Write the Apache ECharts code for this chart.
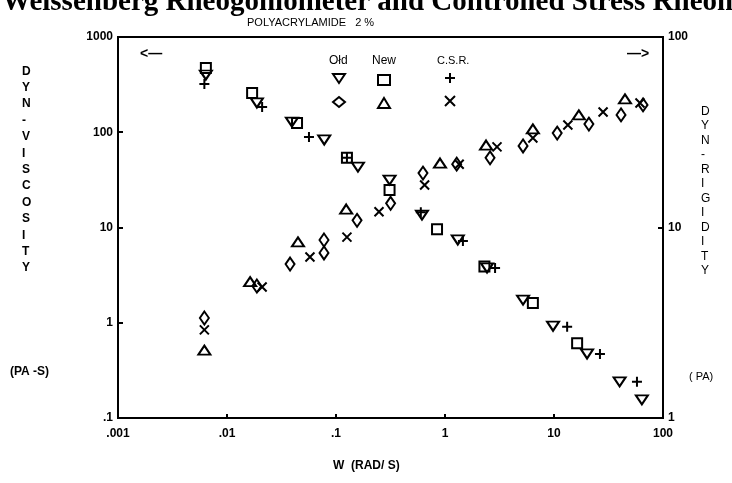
<!DOCTYPE html>
<html>
<head>
<meta charset="utf-8">
<script src="https://cdn.jsdelivr.net/npm/echarts@6/dist/echarts.min.js"></script>
<style>
  html, body { margin: 0; padding: 0; background: #fff; }
  #chart { width: 732px; height: 483px; }
</style>
</head>
<body>
<div id="chart"></div>
<script>
// tick labels
const xTickLabels = ['.001', '.01', '.1', '1', '10', '100']
const leftTickLabels = ['.1', '1', '10', '100', '1000']
const rightTickLabels = ['1', '10', '100']

// dynamic viscosity (PA-S) vs W (RAD/S)
const oldVisc = [[0.0064, 399], [0.0188, 203], [0.0394, 128], [0.078, 83], [0.159, 43], [0.31, 31.5],
  [0.615, 13.5], [1.31, 7.4], [2.43, 3.76], [5.2, 1.73], [9.8, 0.92], [20.1, 0.47], [40, 0.24], [64, 0.155]]
const newVisc = [[0.0064, 473], [0.017, 258], [0.0439, 125], [0.126, 54], [0.31, 24.8], [0.845, 9.6],
  [2.3, 3.9], [6.4, 1.61], [16.3, 0.61]]
const csrVisc = [[0.0062, 321], [0.021, 184], [0.0565, 89], [0.126, 54], [0.6, 14.5], [1.46, 7.2],
  [2.88, 3.76], [13.2, 0.91], [26.4, 0.47], [57.7, 0.24]]

// dynamic rigidity (PA) vs W (RAD/S)
const oldRig = [[0.0062, 3.35], [0.0188, 4.93], [0.0379, 6.43], [0.0776, 7.35], [0.0776, 8.6], [0.156, 10.9],
  [0.317, 13.4], [0.628, 19.3], [1.28, 21.5], [2.59, 23.2], [5.2, 26.8], [10.7, 31.3], [20.9, 34.9], [41.2, 39], [65.6, 44]]
const newRig = [[0.0062, 2.27], [0.0163, 5.2], [0.0448, 8.4], [0.124, 12.5], [0.9, 21.8], [2.38, 27.1],
  [6.4, 32.9], [16.9, 39], [44.8, 47.3]]
const csrRig = [[0.0062, 2.9], [0.021, 4.87], [0.0577, 7.0], [0.126, 8.9], [0.248, 12.1], [0.65, 16.7],
  [1.35, 21.5], [3.0, 26.5], [6.4, 29.5], [13.4, 34.5], [28.2, 40.4], [61.5, 45]]

const ink = '#000'
const downTri = 'path://M0,0L12,0L6,9Z'
const plusPath = 'path://M5,0L5,10M0,5L10,5'
const crossPath = 'path://M0,0L10,10M10,0L0,10'
const hollow = { color: 'rgba(255,255,255,0)', borderColor: ink, borderWidth: 2, opacity: 1 }
const labelFont = { color: ink, fontFamily: 'Liberation Sans', fontWeight: 'bold', fontSize: 12 }

function lg(v) { return Math.round(Math.log10(v)) }

function scatter(name, data, yIdx, symbol, size) {
  return {
    type: 'scatter', name: name, data: data, yAxisIndex: yIdx,
    symbol: symbol, symbolSize: size,
    itemStyle: hollow, z: 3
  }
}

function legendCol(items, left, top, gap) {
  return {
    data: items, orient: 'vertical', left: left, top: top, itemGap: gap,
    itemWidth: 12, itemHeight: 10, formatter: () => '', selectedMode: false,
    itemStyle: hollow, textStyle: { fontSize: 1 }, padding: 0
  }
}

const myChart = echarts.init(document.getElementById('chart'))
const option = {
  backgroundColor: '#fff',
  animation: false,
  grid: { left: 118, right: 69, top: 37, bottom: 65, show: true, borderColor: ink, borderWidth: 2 },
  xAxis: {
    type: 'log', logBase: 10, min: 0.001, max: 100,
    axisLine: { lineStyle: { color: ink, width: 2 } },
    axisTick: { inside: true, length: 4, lineStyle: { color: ink, width: 2 } },
    minorTick: { show: false },
    splitLine: { show: false },
    axisLabel: Object.assign({ margin: 10, formatter: v => xTickLabels[lg(v) + 3] }, labelFont)
  },
  yAxis: [{
    type: 'log', logBase: 10, min: 0.1, max: 1000, position: 'left',
    axisLine: { lineStyle: { color: ink, width: 2 } },
    axisTick: { inside: true, length: 5, lineStyle: { color: ink, width: 2 } },
    splitLine: { show: false },
    axisLabel: Object.assign({ margin: 5, formatter: v => leftTickLabels[lg(v) + 1] }, labelFont)
  }, {
    type: 'log', logBase: 10, min: 1, max: 100, position: 'right',
    axisLine: { lineStyle: { color: ink, width: 2 } },
    axisTick: { inside: true, length: 5, lineStyle: { color: ink, width: 2 } },
    splitLine: { show: false },
    axisLabel: Object.assign({ margin: 5, formatter: v => rightTickLabels[lg(v)] }, labelFont)
  }],
  legend: [
    legendCol([{ name: 'Old viscosity', icon: downTri }, { name: 'Old rigidity', icon: 'diamond' }], 332, 73, 12),
    legendCol([{ name: 'New viscosity', icon: 'rect' }, { name: 'New rigidity', icon: 'triangle' }], 377, 74, 11),
    legendCol([{ name: 'C.S.R. viscosity', icon: plusPath }, { name: 'C.S.R. rigidity', icon: crossPath }], 444, 72, 11)
  ],
  series: [
    scatter('Old viscosity', oldVisc, 0, downTri, [12, 9]),
    scatter('New viscosity', newVisc, 0, 'rect', [10, 10]),
    scatter('C.S.R. viscosity', csrVisc, 0, plusPath, [10, 10]),
    scatter('Old rigidity', oldRig, 1, 'diamond', [9, 13]),
    scatter('New rigidity', newRig, 1, 'triangle', [12, 9]),
    scatter('C.S.R. rigidity', csrRig, 1, crossPath, [9, 9])
  ],
  graphic: [
    { type: 'text', left: 2, top: -12, style: { text: 'Weissenberg Rheogoniometer and Controlled Stress Rheometer', font: 'bold 29px "Liberation Serif"', fill: '#000' } },
    { type: 'text', left: 247, top: 17, style: { text: 'POLYACRYLAMIDE   2 %', font: '11px "Liberation Sans"', fill: ink } },
    { type: 'text', left: 140, top: 47, style: { text: '<—', font: 'bold 14px "Liberation Sans"', fill: ink } },
    { type: 'text', left: 627, top: 47, style: { text: '—>', font: 'bold 14px "Liberation Sans"', fill: ink } },
    { type: 'text', left: 329, top: 55, style: { text: 'Ołd', font: '12px "Liberation Sans"', fill: ink } },
    { type: 'text', left: 372, top: 55, style: { text: 'New', font: '12px "Liberation Sans"', fill: ink } },
    { type: 'text', left: 437, top: 55, style: { text: 'C.S.R.', font: '11px "Liberation Sans"', fill: ink } },
    { type: 'text', left: 22, top: 63, style: { text: 'D\nY\nN\n-\nV\nI\nS\nC\nO\nS\nI\nT\nY', font: 'bold 12px "Liberation Sans"', fill: ink, lineHeight: 16.4, align: 'center' } },
    { type: 'text', left: 701, top: 104, style: { text: 'D\nY\nN\n-\nR\nI\nG\nI\nD\nI\nT\nY', font: '12px "Liberation Sans"', fill: ink, lineHeight: 14.5, align: 'center' } },
    { type: 'text', left: 10, top: 366, style: { text: '(PA -S)', font: 'bold 12px "Liberation Sans"', fill: ink } },
    { type: 'text', left: 689, top: 371, style: { text: '( PA)', font: '11px "Liberation Sans"', fill: ink } },
    { type: 'text', left: 333, top: 460, style: { text: 'W  (RAD/ S)', font: 'bold 12px "Liberation Sans"', fill: ink } }
  ]
}
myChart.setOption(option)
</script>
</body>
</html>
